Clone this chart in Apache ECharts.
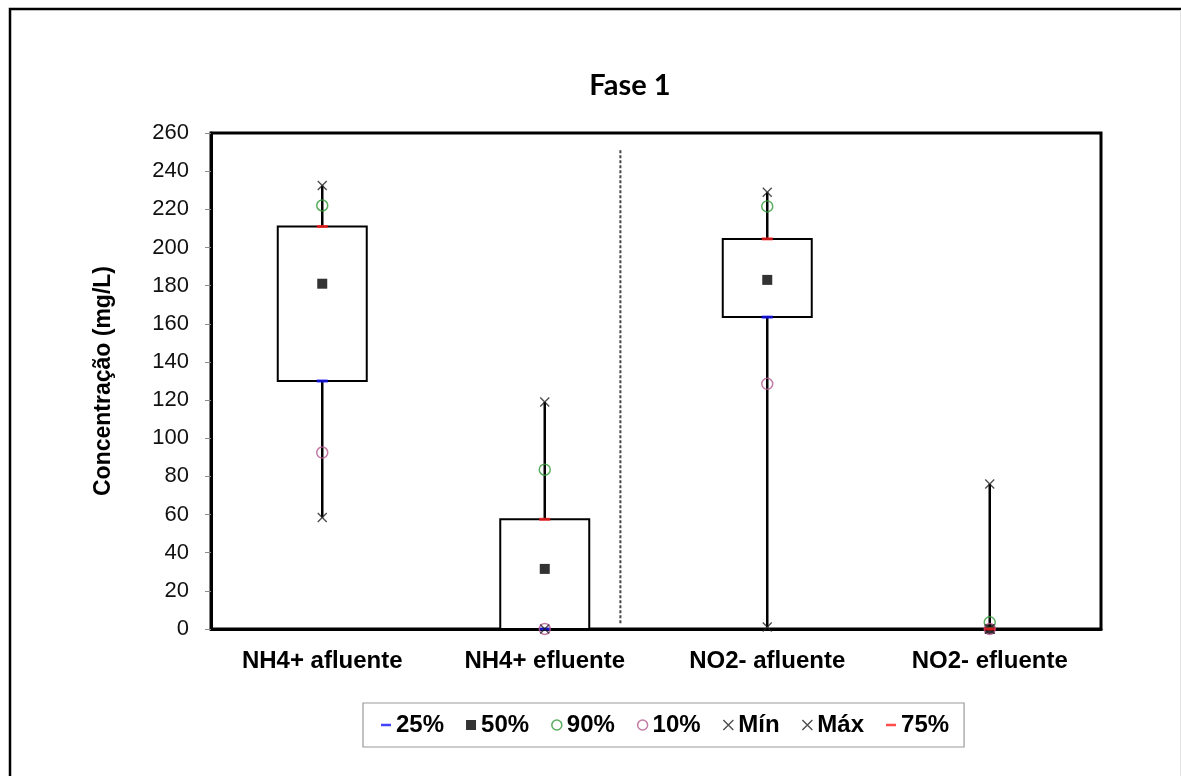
<!DOCTYPE html>
<html>
<head>
<meta charset="utf-8">
<title>Fase 1</title>
<script src="https://cdn.jsdelivr.net/npm/echarts@6/dist/echarts.min.js"></script>
<style>
  html, body { margin: 0; padding: 0; background: #fff; }
  #chart { width: 1181px; height: 776px; }
</style>
</head>
<body>
<div id="chart"></div>
<script>
// Concentration statistics per sampling point (mg/L)
const categories = ['NH4+ afluente', 'NH4+ efluente', 'NO2- afluente', 'NO2- efluente'];
const p25 = [130, 0, 163.5, 0];
const p50 = [181, 31.5, 183, 0];
const p90 = [222, 83.5, 221.5, 3.5];
const p10 = [92.5, 0, 128.5, 0];
const minVals = [58.5, 0, 1, 0];
const maxVals = [232.5, 119, 229, 76];
const p75 = [211, 57.5, 204.5, 0];

const yTicks = { min: 0, max: 260, interval: 20 };

// Dashed divider between the NH4+ and NO2- groups (position on a 0..4 helper axis)
const dividerX = 1.84;
const dividerSpan = [3, 251];

const FONT = '"Liberation Sans", Arial, sans-serif';
const BLUE = '#1515ff';
const RED = '#ff1f1f';
const GREEN = '#2f9a35';
const PINK = '#b45a90';
const CROSS = '#222';
const xPath = 'path://M0,0L10,10M10,0L0,10';
const dashPath = 'path://M0,0h12v3h-12z';

const chart = echarts.init(document.getElementById('chart'), null, { renderer: 'canvas' });

function pointsOf(values) {
  return values.map((v, i) => [i, v]);
}

const boxData = categories.map((c, i) => [i, minVals[i], p25[i], p75[i], maxVals[i]]);

const option = {
  backgroundColor: '#fff',
  animation: false,
  title: {
    text: 'Fase 1',
    left: 630,
    top: 71,
    textAlign: 'center',
    padding: 0,
    textStyle: { fontFamily: 'Lato, "Open Sans", sans-serif', fontWeight: 'bold', fontSize: 29, color: '#000' }
  },
  graphic: [
    { type: 'rect', silent: true, shape: { x: 10, y: 9, width: 1200, height: 800 },
      style: { fill: 'none', stroke: '#000', lineWidth: 2.5 } },
    { type: 'line', silent: true, shape: { x1: 1180.5, y1: 10, x2: 1180.5, y2: 776 },
      style: { stroke: '#e2e2e2', lineWidth: 1 } }
  ],
  grid: {
    left: 211, right: 80, top: 133, bottom: 147,
    show: true, borderColor: '#000', borderWidth: 3, backgroundColor: '#fff'
  },
  legend: {
    left: 363,
    top: 703,
    orient: 'horizontal',
    padding: [10, 15, 10, 18],
    borderColor: '#9a9a9a',
    borderWidth: 1.2,
    itemWidth: 10,
    itemHeight: 10,
    itemGap: 22,
    textStyle: { fontFamily: FONT, fontWeight: 'bold', fontSize: 24, color: '#000' },
    data: [
      { name: '25%', icon: dashPath, itemStyle: { color: BLUE, borderWidth: 0 } },
      { name: '50%', icon: 'rect', itemStyle: { color: '#000', borderWidth: 0 } },
      { name: '90%', icon: 'circle', itemStyle: { color: '#fff', borderColor: GREEN, borderWidth: 1.5 } },
      { name: '10%', icon: 'circle', itemStyle: { color: '#fff', borderColor: PINK, borderWidth: 1.5 } },
      { name: 'Mín', icon: xPath, itemStyle: { color: 'rgba(0,0,0,0)', borderColor: CROSS, borderWidth: 1.4 } },
      { name: 'Máx', icon: xPath, itemStyle: { color: 'rgba(0,0,0,0)', borderColor: CROSS, borderWidth: 1.4 } },
      { name: '75%', icon: dashPath, itemStyle: { color: RED, borderWidth: 0 } }
    ]
  },
  xAxis: [
    {
      type: 'category',
      data: categories,
      boundaryGap: true,
      axisLine: { show: true, lineStyle: { color: '#000', width: 3 } },
      axisTick: { show: false },
      axisLabel: { margin: 20, fontFamily: FONT, fontWeight: 'bold', fontSize: 24, color: '#000' },
      splitLine: { show: false }
    },
    {
      type: 'value',
      min: 0, max: 4,
      show: false
    }
  ],
  yAxis: {
    type: 'value',
    min: yTicks.min, max: yTicks.max, interval: yTicks.interval,
    name: 'Concentração (mg/L)',
    nameLocation: 'middle',
    nameGap: 96,
    nameTextStyle: { fontFamily: FONT, fontWeight: 'bold', fontSize: 23, color: '#000' },
    axisLine: { show: true, lineStyle: { color: '#000', width: 3 } },
    axisTick: { show: true, inside: false, length: 6, lineStyle: { color: '#8a8a8a', width: 1 } },
    axisLabel: { margin: 22, fontFamily: FONT, fontSize: 22, color: '#111' },
    splitLine: { show: false }
  },
  series: [
    {
      type: 'custom',
      name: 'box',
      z: 2,
      data: boxData,
      encode: { x: 0, y: [1, 2, 3, 4] },
      renderItem: function (params, api) {
        const i = api.value(0);
        const lo = api.coord([i, api.value(1)]);
        const q1 = api.coord([i, api.value(2)]);
        const q3 = api.coord([i, api.value(3)]);
        const hi = api.coord([i, api.value(4)]);
        const w = api.size([1, 0])[0] * 0.4;
        return {
          type: 'group',
          children: [
            { type: 'line', shape: { x1: lo[0], y1: lo[1], x2: hi[0], y2: hi[1] },
              style: { stroke: '#000', lineWidth: 2.5 } },
            { type: 'rect', shape: { x: q1[0] - w / 2, y: q3[1], width: w, height: q1[1] - q3[1] },
              style: { fill: '#fff', stroke: '#000', lineWidth: 2 } }
          ]
        };
      }
    },
    {
      type: 'line',
      name: 'divider',
      xAxisIndex: 1,
      z: 1,
      symbol: 'none',
      silent: true,
      data: [[dividerX, dividerSpan[0]], [dividerX, dividerSpan[1]]],
      lineStyle: { color: '#444', width: 2, type: [3, 2] }
    },
    { type: 'scatter', name: '25%', z: 5, symbol: 'rect', symbolSize: [11, 3],
      itemStyle: { color: BLUE }, data: pointsOf(p25) },
    { type: 'scatter', name: '50%', z: 5, symbol: 'rect', symbolSize: 10,
      itemStyle: { color: '#000' }, data: pointsOf(p50) },
    { type: 'scatter', name: '90%', z: 5, symbol: 'circle', symbolSize: 11,
      itemStyle: { color: 'rgba(255,255,255,0)', borderColor: GREEN, borderWidth: 1.5 }, data: pointsOf(p90) },
    { type: 'scatter', name: '10%', z: 5, symbol: 'circle', symbolSize: 11,
      itemStyle: { color: 'rgba(255,255,255,0)', borderColor: PINK, borderWidth: 1.5 }, data: pointsOf(p10) },
    { type: 'scatter', name: 'Mín', z: 5, symbol: xPath, symbolSize: 9,
      itemStyle: { color: 'rgba(0,0,0,0)', borderColor: CROSS, borderWidth: 1.4 }, data: pointsOf(minVals) },
    { type: 'scatter', name: 'Máx', z: 5, symbol: xPath, symbolSize: 9,
      itemStyle: { color: 'rgba(0,0,0,0)', borderColor: CROSS, borderWidth: 1.4 }, data: pointsOf(maxVals) },
    { type: 'scatter', name: '75%', z: 5, symbol: 'rect', symbolSize: [11, 3],
      itemStyle: { color: RED }, data: pointsOf(p75) }
  ]
};

chart.setOption(option);
</script>
</body>
</html>
